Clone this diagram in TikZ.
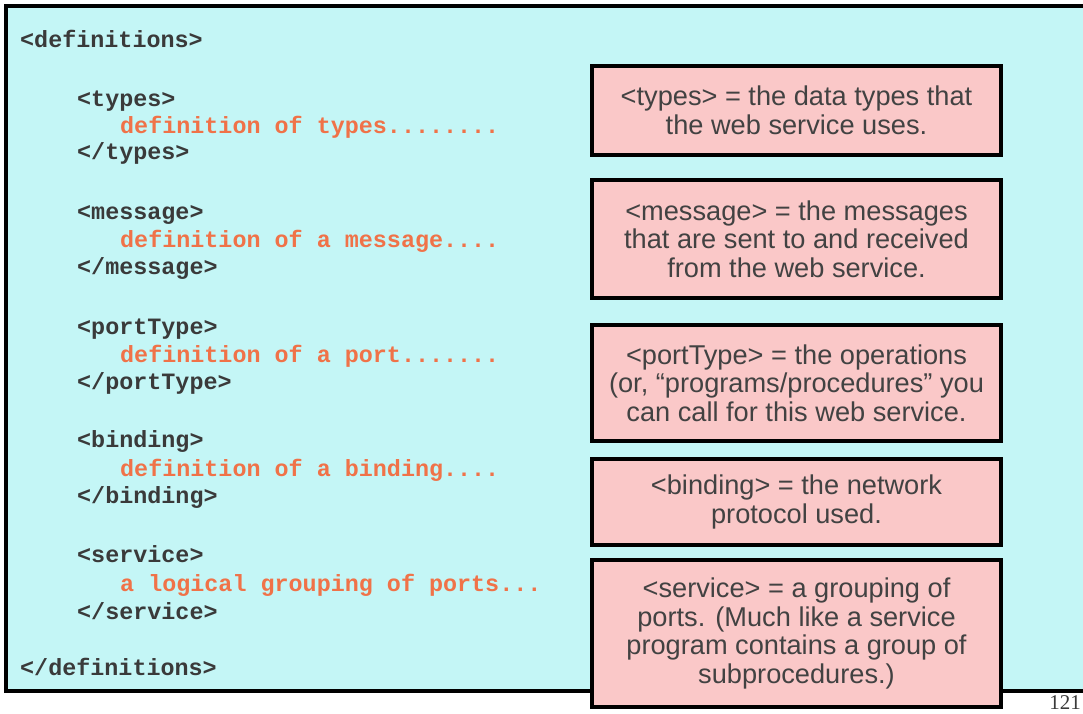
\documentclass[tikz,border=0pt]{standalone}
\usepackage{fontspec}
\setmainfont{Liberation Sans}
\setmonofont{Liberation Mono}
\newfontfamily\pagefont{Liberation Serif}
\usepackage{xcolor}
\usepackage{tikz}
\definecolor{sheet}{RGB}{196,246,246}
\definecolor{notefill}{RGB}{250,200,200}
\definecolor{codegray}{RGB}{58,58,58}
\definecolor{notegray}{RGB}{66,66,66}
\definecolor{codeorange}{RGB}{240,114,72}
\tikzset{
  tag/.style={anchor=base west, inner sep=0pt, text=codegray,
    font=\fontsize{23.4}{27}\selectfont\ttfamily\bfseries},
  body/.style={tag, text=codeorange},
  note/.style={draw, line width=4pt, fill=notefill, text=notegray,
    minimum width=409pt, inner sep=0pt, align=center,
    font=\fontsize{27.2}{28.5}\selectfont}
}

\begin{document}
\begin{tikzpicture}[x=1pt, y=-1pt]       % wsdl outline
    \useasboundingbox (0,0) rectangle (1083,713);
    \fill[white] (0,0) rectangle (1083,713);
    \draw[line width=4pt, fill=sheet] (6,6) rectangle (1095,691);

    \node[tag] at (20, 47) (defopen) {<definitions>};
    \node[tag] at (77, 106) (typesopen) {<types>};
    \node[body] at (120, 133) (typesbody) {definition of types........};
    \node[tag] at (77, 159) (typesclose) {</types>};
    \node[tag] at (77, 219) (msgopen) {<message>};
    \node[body] at (120, 247) (msgbody) {definition of a message....};
    \node[tag] at (77, 274) (msgclose) {</message>};
    \node[tag] at (77, 334) (portopen) {<portType>};
    \node[body] at (120, 362) (portbody) {definition of a port.......};
    \node[tag] at (77, 389) (portclose) {</portType>};
    \node[tag] at (77, 447) (bindopen) {<binding>};
    \node[body] at (120, 476) (bindbody) {definition of a binding....};
    \node[tag] at (77, 503) (bindclose) {</binding>};
    \node[tag] at (77, 562) (servopen) {<service>};
    \node[body] at (120, 591) (servbody) {a logical grouping of ports...};
    \node[tag] at (77, 619) (servclose) {</service>};
    \node[tag] at (20, 675) (defclose) {</definitions>};

    \node[note, minimum height=89pt] at (796.5, 110.5) (typesnote)
      {<types> = the data types that\\ the web service uses.};
    \node[note, minimum height=118pt] at (796.5, 239) (msgnote)
      {<message> = the messages\\ that are sent to and received\\ from the web service.};
    \node[note, minimum height=116pt] at (796.5, 383) (portnote)
      {<portType> = the operations\\ (or, “programs/procedures” you\\ can call for this web service.};
    \node[note, minimum height=86pt] at (796.5, 502) (bindnote)
      {<binding> = the network\\ protocol used.};
    \node[note, minimum height=147pt] at (796.5, 633.5) (servnote)
      {<service> = a grouping of\\ ports. (Much like a service\\ program contains a group of\\ subprocedures.)};

    \node[anchor=base east, inner sep=0pt, text=codegray,
      font=\fontsize{21}{24}\selectfont\pagefont] at (1081, 709) (pageno) {121};
\end{tikzpicture}
\end{document}
